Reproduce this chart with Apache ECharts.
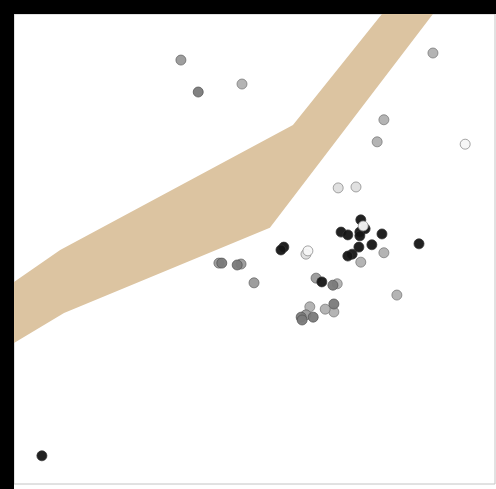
<!DOCTYPE html>
<html>
<head>
<meta charset="utf-8">
<script src="https://cdn.jsdelivr.net/npm/echarts@6/dist/echarts.min.js"></script>
<style>
  html, body { margin: 0; padding: 0; background: #000; }
  #chart {
    position: absolute;
    left: 14px;
    top: 14px;
    width: 482px;
    height: 475px;
    background: #fff;
  }
</style>
</head>
<body>
<div id="chart"></div>
<script>
// band (shaded region) edges
const bandUpper = [[0, 43.0], [9.6, 49.8], [58.0, 76.4], [76.5, 100]];
const bandLower = [[0, 30.0], [10.4, 36.4], [53.2, 54.5], [87.1, 100]];

// points grouped by shade
const blackPts = [
  [72.1, 56.2], [68.0, 53.6], [69.4, 53.0], [71.9, 53.6], [73.0, 54.3],
  [71.9, 52.8], [76.5, 53.2], [84.2, 51.1], [74.4, 50.9], [71.7, 50.4],
  [70.3, 48.9], [69.4, 48.5], [56.1, 50.4], [55.5, 49.8], [64.0, 43.0],
  [5.8, 6.0]
];
const darkPts = [
  [66.3, 42.3], [66.5, 38.3], [59.7, 35.5], [62.2, 35.5], [59.9, 34.9],
  [43.2, 47.0], [46.4, 46.6], [38.3, 83.4]
];
const midPts = [
  [34.7, 90.2], [60.7, 36.0], [62.8, 43.8], [49.9, 42.8], [42.6, 47.0],
  [47.2, 46.8]
];
const lightPts = [
  [47.4, 85.1], [87.1, 91.7], [76.9, 77.5], [75.5, 72.8], [76.9, 49.2],
  [72.1, 47.2], [67.2, 42.6], [79.6, 40.2], [66.5, 36.6], [64.7, 37.2],
  [61.5, 37.7]
];
const palePts = [[67.4, 63.0], [71.1, 63.2], [60.7, 48.9]];
const whitePts = [[93.8, 72.3], [72.6, 54.9], [61.1, 49.6]];

const chart = echarts.init(document.getElementById('chart'));

const bandPolygon = bandUpper.concat(bandLower.slice().reverse());

function pointSeries(data, color, border) {
  return {
    type: 'scatter',
    data: data,
    symbolSize: 10,
    itemStyle: { color: color, borderColor: border, borderWidth: 0.8, opacity: 0.95 },
    z: 3
  };
}

chart.setOption({
  animation: false,
  grid: {
    left: 0, top: 0, right: 1, bottom: 5,
    show: true,
    borderColor: '#c4c4c4',
    borderWidth: 1,
    backgroundColor: '#fff'
  },
  xAxis: { type: 'value', min: 0, max: 100, show: false },
  yAxis: { type: 'value', min: 0, max: 100, show: false },
  series: [
    {
      type: 'custom',
      data: [0],
      z: 1,
      renderItem: function (params, api) {
        return {
          type: 'polygon',
          shape: { points: bandPolygon.map(p => api.coord(p)) },
          style: { fill: '#dcc4a1' }
        };
      }
    },
    pointSeries(lightPts, '#b0b0b0', '#777'),
    pointSeries(midPts, '#999999', '#666'),
    pointSeries(darkPts, '#7a7a7a', '#555'),
    pointSeries(palePts, '#dedede', '#888'),
    pointSeries(blackPts, '#151515', '#333'),
    pointSeries(whitePts, '#f7f7f7', '#888')
  ]
});
</script>
</body>
</html>
